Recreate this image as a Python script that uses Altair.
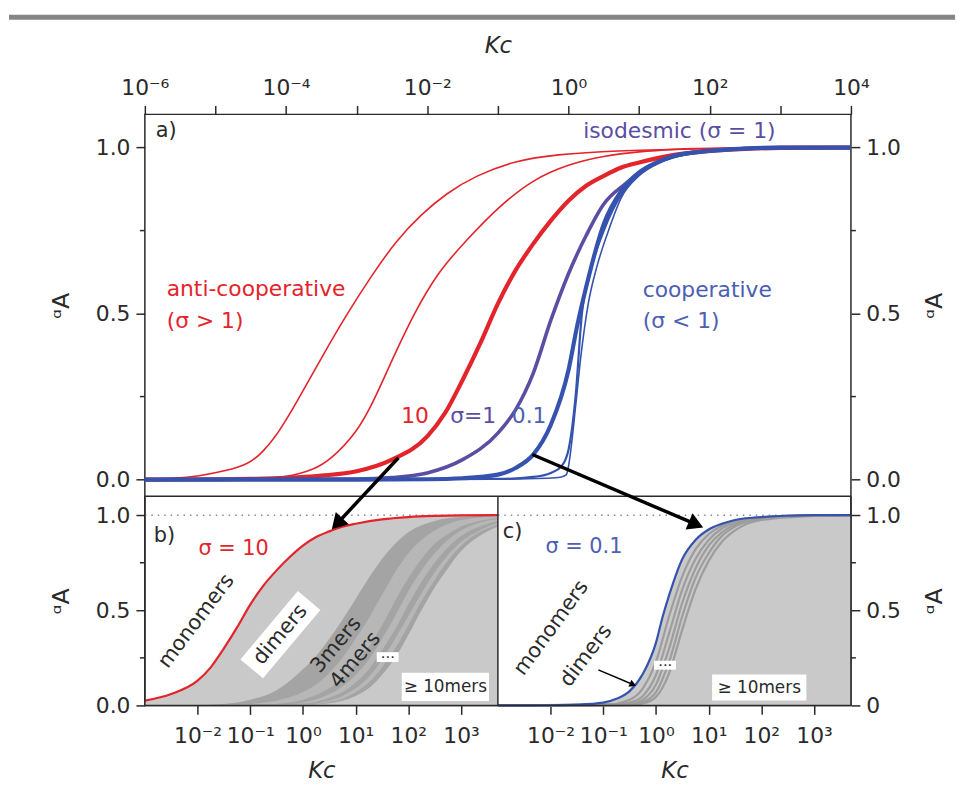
import altair as alt
import pandas as pd

FONT = "DejaVu Sans"
INK = "#2a2a2a"
RED = "#e3242b"
PURPLE = "#5a4ea2"
BLUE = "#3553ae"
BLUE_TXT = "#4b60b2"

# ---------------- values: log10(Kc) and alpha_A ----------------
# panel a
anti1_lk = [-6, -5.6, -5.242, -4.82, -4.539, -4.357, -4.118, -3.837, -3.486, -3.163, -2.784, -2.433, -2.081, -1.73, -1.309, -0.747, -0.185, 0.657, 1.781, 3, 4]
anti1_a = [0, 0.003, 0.0099, 0.0278, 0.0467, 0.0763, 0.1361, 0.2372, 0.3717, 0.4904, 0.616, 0.7218, 0.7996, 0.8624, 0.9162, 0.961, 0.979, 0.991, 0.9955, 1.0, 1.0]
anti2_lk = [-6, -4.5, -4, -3.6, -3.37, -3, -2.75, -2.5, -2.19, -1.85, -1.45, -1, -0.5, 0, 0.5, 1, 1.5, 2, 4]
anti2_a = [0, 0.001, 0.006, 0.03, 0.06, 0.14, 0.24, 0.36, 0.5, 0.625, 0.72, 0.82, 0.905, 0.95, 0.975, 0.988, 0.995, 0.999, 1.0]
sig10_lk = [-6, -5, -4.5, -4, -3.5, -3, -2.5, -2, -1.75, -1.5, -1.25, -1, -0.75, -0.5, -0.25, 0, 0.25, 0.5, 0.75, 1, 1.5, 2, 2.5, 3, 3.7, 4]
sig10_a = [0, 0.0005, 0.002, 0.005, 0.012, 0.025, 0.06, 0.13, 0.2, 0.3, 0.41, 0.53, 0.63, 0.71, 0.78, 0.84, 0.885, 0.915, 0.94, 0.955, 0.978, 0.99, 0.996, 0.999, 1.0, 1.0]
iso_lk = [-6, -3, -2.5, -2, -1.5, -1, -0.75, -0.5, -0.25, 0, 0.25, 0.5, 0.8, 1.2, 1.6, 2, 2.5, 3, 4]
iso_a = [0, 0.002, 0.006, 0.02, 0.06, 0.14, 0.21, 0.32, 0.48, 0.62, 0.735, 0.83, 0.89, 0.95, 0.98, 0.99, 0.997, 1.0, 1.0]
sig01_lk = [-6, -3, -2, -1.5, -1, -0.75, -0.5, -0.25, 0, 0.12, 0.25, 0.5, 0.75, 1, 1.25, 1.5, 2, 2.5, 3, 3.7, 4]
sig01_a = [0, 0, 0.001, 0.004, 0.015, 0.035, 0.075, 0.165, 0.33, 0.46, 0.58, 0.77, 0.87, 0.925, 0.955, 0.975, 0.99, 0.997, 1.0, 1.0, 1.0]
coopB_lk = [-6, -1, -0.5, -0.25, -0.1, 0, 0.1, 0.19, 0.3, 0.5, 0.75, 1, 1.3, 1.7, 2, 3, 4]
coopB_a = [0, 0.002, 0.008, 0.02, 0.04, 0.09, 0.25, 0.5, 0.62, 0.75, 0.86, 0.92, 0.96, 0.98, 0.99, 1.0, 1.0]
coopC_lk = [-6, -1, -0.3, -0.1, -0.03, 0, 0.05, 0.1, 0.18, 0.28, 0.4, 0.55, 0.75, 1, 1.3, 1.7, 2, 3, 4]
coopC_a = [0, 0.001, 0.004, 0.008, 0.015, 0.04, 0.12, 0.22, 0.38, 0.53, 0.64, 0.74, 0.85, 0.915, 0.955, 0.98, 0.99, 1.0, 1.0]

# panel b: fraction in aggregates of size >= n (sigma = 10)
b3_lk = [-3, -2, -1.5, -1, -0.5, 0, 0.25, 0.5, 0.75, 1, 1.25, 1.5, 1.75, 2, 2.5, 3, 3.7]
b3_a = [0, 0.002, 0.008, 0.03, 0.08, 0.19, 0.26, 0.35, 0.45, 0.56, 0.67, 0.77, 0.85, 0.91, 0.97, 0.99, 0.998]
b4_lk = [-3, -1.5, -1, -0.5, 0, 0.25, 0.5, 0.75, 1, 1.25, 1.5, 1.75, 2, 2.25, 2.5, 3, 3.7]
b4_a = [0, 0.002, 0.008, 0.025, 0.07, 0.11, 0.17, 0.25, 0.35, 0.46, 0.58, 0.7, 0.8, 0.87, 0.92, 0.975, 0.995]
b5_lk = [-3, -1, -0.5, 0, 0.5, 0.75, 1, 1.25, 1.5, 1.75, 2, 2.25, 2.5, 2.75, 3, 3.35, 3.7]
b5_a = [0, 0.002, 0.008, 0.03, 0.09, 0.14, 0.22, 0.31, 0.42, 0.55, 0.67, 0.77, 0.85, 0.9, 0.94, 0.97, 0.985]
b6_lk = [-3, -0.5, 0, 0.5, 0.75, 1, 1.25, 1.5, 1.75, 2, 2.25, 2.5, 2.75, 3, 3.35, 3.7]
b6_a = [0, 0.004, 0.015, 0.06, 0.1, 0.16, 0.24, 0.35, 0.47, 0.6, 0.71, 0.8, 0.87, 0.92, 0.96, 0.98]
b7_lk = [-3, 0, 0.5, 0.75, 1, 1.25, 1.5, 1.75, 2, 2.25, 2.5, 2.75, 3, 3.35, 3.7]
b7_a = [0, 0.01, 0.04, 0.07, 0.12, 0.19, 0.29, 0.4, 0.53, 0.65, 0.75, 0.83, 0.89, 0.94, 0.97]
b8_a = [0, 0.006, 0.025, 0.05, 0.09, 0.15, 0.24, 0.35, 0.47, 0.59, 0.7, 0.79, 0.86, 0.92, 0.96]
b9_a = [0, 0.004, 0.018, 0.035, 0.07, 0.12, 0.2, 0.3, 0.42, 0.55, 0.66, 0.76, 0.84, 0.91, 0.95]
b10_a = [0, 0.003, 0.012, 0.025, 0.05, 0.09, 0.16, 0.25, 0.37, 0.5, 0.62, 0.72, 0.81, 0.89, 0.94]
band_colors = ["#c9c9c9", "#a4a4a4", "#b7b7b7", "#a4a4a4", "#b7b7b7", "#a4a4a4", "#b7b7b7", "#a4a4a4", "#c9c9c9"]

# panel c: boundaries of larger aggregates (sigma = 0.1)
c3_lk = [-3, -1, -0.5, -0.25, 0, 0.25, 0.5, 0.75, 1, 1.25, 1.5, 2, 3, 3.7]
c3_a = [0, 0.002, 0.03, 0.09, 0.23, 0.47, 0.68, 0.82, 0.9, 0.945, 0.97, 0.99, 1.0, 1.0]
c4_a = [0, 0.001, 0.015, 0.05, 0.16, 0.38, 0.61, 0.77, 0.87, 0.93, 0.96, 0.985, 0.999, 1.0]
c5_lk = [-3, -0.5, -0.25, 0, 0.25, 0.5, 0.75, 1, 1.25, 1.5, 2, 3, 3.7]
c5_a = [0, 0.008, 0.03, 0.11, 0.3, 0.54, 0.72, 0.84, 0.91, 0.95, 0.983, 0.998, 1.0]
c6_a = [0, 0.004, 0.018, 0.07, 0.23, 0.47, 0.67, 0.8, 0.89, 0.94, 0.98, 0.997, 1.0]
c7_a = [0, 0.002, 0.01, 0.045, 0.17, 0.4, 0.61, 0.76, 0.86, 0.92, 0.975, 0.996, 1.0]

# tick labels
top_labels = ["10⁻⁶", "", "10⁻⁴", "", "10⁻²", "", "10⁰", "", "10²", "", "10⁴"]
bot_labels = ["10⁻²", "10⁻¹", "10⁰", "10¹", "10²", "10³"]
y_major = [0, 0.5, 1.0]
y_minor = [0.25, 0.75]

# ---------------- scales / axes ----------------
W, HA, HB = 712, 385, 211
KMAX = 10 ** 3.7
XA = alt.Scale(type="log", domain=[1e-6, 1e4], range=[0, W], nice=False)
YA = alt.Scale(domain=[-0.05, 1.1], range=[HA, 0], nice=False, zero=False)
XB = alt.Scale(type="log", domain=[1e-3, KMAX], range=[0, W / 2], nice=False)
XC = alt.Scale(type="log", domain=[1e-3, KMAX], range=[W / 2, W], nice=False)
YB = alt.Scale(domain=[0, 1.1], range=[HA + HB, HA], nice=False, zero=False)


def arr(labels):
    return "[" + ",".join("'" + s + "'" for s in labels) + "]"


LAB = dict(labelFont=FONT, labelFontSize=22, labelColor=INK, tickColor=INK, tickWidth=1.5,
           tickSize=9, domain=False, grid=False, labelFlush=False, labelOverlap=False,
           titleFont=FONT, titleColor=INK, titleFontWeight="normal")
yexpr = "format(datum.value,'.1f')"
yexpr_c = "datum.value==0?'0':format(datum.value,'.1f')"

ax_top = alt.Axis(orient="top", values=[10.0 ** k for k in range(-6, 5)],
                  labelExpr=arr(top_labels) + "[round(log(datum.value)/LN10)+6]",
                  labelPadding=6, title="Kc", titleFontSize=23, titleFontStyle="italic",
                  titlePadding=19, **LAB)
ax_bot = alt.Axis(orient="bottom", values=[10.0 ** k for k in range(-2, 4)],
                  labelExpr=arr(bot_labels) + "[round(log(datum.value)/LN10)+2]",
                  labelPadding=11, title="Kc", titleFontSize=23, titleFontStyle="italic",
                  titlePadding=14, **LAB)


def ax_left():
    return alt.Axis(orient="left", values=y_major, labelExpr=yexpr, labelPadding=6,
                    title="ᵅA", titleFontSize=24, titlePadding=22, **LAB)


def ax_right(expr):
    return alt.Axis(orient="right", values=y_major, labelExpr=expr, labelPadding=6,
                    title="ᵅA", titleFontSize=24, titlePadding=22, titleAngle=270,
                    titleBaseline="top", **LAB)


def curve(lk, a, lo=-6.0, hi=4.0):
    rows = [{"Kc": 10.0 ** x, "a": y} for x, y in zip(lk, a) if lo - 1e-9 <= x <= hi + 1e-9]
    return pd.DataFrame(rows)


def line_layer(data, xs, ys, color, width, xaxis=None, yaxis=None, interp="monotone"):
    return alt.Chart(data).mark_line(color=color, strokeWidth=width, interpolate=interp).encode(
        x=alt.X("Kc:Q", scale=xs, axis=xaxis), y=alt.Y("a:Q", scale=ys, axis=yaxis))


def area_layer(data, xs, ys, color, xaxis=None, yaxis=None):
    return alt.Chart(data).mark_area(color=color, interpolate="monotone", opacity=1).encode(
        x=alt.X("Kc:Q", scale=xs, axis=xaxis), y=alt.Y("a:Q", scale=ys, axis=yaxis),
        y2=alt.datum(0))


def text_layer(rows, xs, ys, align):
    d = pd.DataFrame([{"t": r[0], "Kc": 10.0 ** r[1], "a": r[2], "c": r[3], "s": r[4], "r": r[5]}
                      for r in rows])
    return alt.Chart(d).mark_text(font=FONT, align=align, baseline="middle").encode(
        x=alt.X("Kc:Q", scale=xs, axis=None), y=alt.Y("a:Q", scale=ys, axis=None),
        text="t:N", color=alt.Color("c:N", scale=None), size=alt.Size("s:Q", scale=None),
        angle=alt.Angle("r:Q", scale=None))


def rect_layer(rows, xs, ys):
    d = pd.DataFrame([{"x1": 10.0 ** r[0], "x2": 10.0 ** r[1], "y1": r[2], "y2": r[3]} for r in rows])
    return alt.Chart(d).mark_rect(color="white", opacity=1).encode(
        x=alt.X("x1:Q", scale=xs, axis=None), x2="x2:Q",
        y=alt.Y("y1:Q", scale=ys, axis=None), y2="y2:Q")


def hrule(ys_vals, xs, ys, color=INK, width=1.5, dash=None, lo=1e-3, hi=KMAX):
    d = pd.DataFrame({"y": ys_vals, "xa": [lo] * len(ys_vals), "xb": [hi] * len(ys_vals)})
    kw = dict(color=color, strokeWidth=width)
    if dash:
        kw["strokeDash"] = dash
    return alt.Chart(d).mark_rule(**kw).encode(
        x=alt.X("xa:Q", scale=xs, axis=None), x2="xb:Q", y=alt.Y("y:Q", scale=ys, axis=None))


def vrule(xs_vals, xs, ys):
    d = pd.DataFrame({"x": xs_vals, "ya": [0.0] * len(xs_vals), "yb": [1.1] * len(xs_vals)})
    return alt.Chart(d).mark_rule(color=INK, strokeWidth=1.5).encode(
        x=alt.X("x:Q", scale=xs, axis=None), y=alt.Y("ya:Q", scale=ys, axis=None), y2="yb:Q")


def minor_ticks(ys, px0, px1):
    return alt.Chart(pd.DataFrame({"v": y_minor})).mark_rule(color=INK, strokeWidth=1.5).encode(
        x=alt.value(px0), x2=alt.value(px1), y=alt.Y("v:Q", scale=ys, axis=None))


layers = []

# page header rule
layers.append(alt.Chart(pd.DataFrame({"k": [0]})).mark_rule(color="#858585", strokeWidth=5).encode(
    x=alt.value(-137), x2=alt.value(817), y=alt.value(-98)))

# ---------------- panel b ----------------
layers.append(hrule([1.0], XB, YB, color="#8a8a8a", width=1.5, dash=[1.5, 5]))
b_curves = [curve(sig10_lk, sig10_a, -3, 3.7), curve(b3_lk, b3_a), curve(b4_lk, b4_a),
            curve(b5_lk, b5_a), curve(b6_lk, b6_a), curve(b7_lk, b7_a), curve(b7_lk, b8_a),
            curve(b7_lk, b9_a), curve(b7_lk, b10_a)]
for i, (d, col) in enumerate(zip(b_curves, band_colors)):
    if i == 0:
        layers.append(area_layer(d, XB, YB, col, xaxis=ax_bot, yaxis=ax_left()))
    else:
        layers.append(area_layer(d, XB, YB, col))
layers.append(line_layer(b_curves[0], XB, YB, RED, 2.2))

# ---------------- panel c ----------------
layers.append(hrule([1.0], XC, YB, color="#8a8a8a", width=1.5, dash=[1.5, 5]))
c_blue = curve(sig01_lk, sig01_a, -3, 3.7)
layers.append(area_layer(c_blue, XC, YB, "#c9c9c9", xaxis=ax_bot, yaxis=ax_right(yexpr_c)))
for lk, a in [(c3_lk, c3_a), (c3_lk, c4_a), (c5_lk, c5_a), (c5_lk, c6_a), (c5_lk, c7_a)]:
    layers.append(line_layer(curve(lk, a), XC, YB, "#9d9d9d", 2.2))
layers.append(line_layer(c_blue, XC, YB, BLUE, 2.2))

# white label boxes
layers.append(rect_layer([(1.875, 3.531, 0.023, 0.172), (1.40, 1.815, 0.228, 0.28)], XB, YB))
layers.append(rect_layer([(1.065, 2.854, 0.026, 0.162), (-0.036, 0.379, 0.188, 0.235)], XC, YB))
layers.append(alt.Chart(pd.DataFrame({"Kc": [10 ** -0.427], "a": [0.372], "r": [310]})).mark_point(
    shape="M-1,-0.33L1,-0.33L1,0.33L-1,0.33Z", filled=True, color="white", opacity=1,
    size=8100, strokeWidth=0).encode(
    x=alt.X("Kc:Q", scale=XB, axis=None), y=alt.Y("a:Q", scale=YB, axis=None),
    angle=alt.Angle("r:Q", scale=None)))

# panel b / c texts
layers.append(text_layer([("b)", -2.831, 0.889, INK, 21, 0), ("σ = 10", -1.984, 0.821, RED, 21, 0)],
                         XB, YB, "left"))
layers.append(text_layer([("monomers", -2.021, 0.443, INK, 21, 307), ("dimers", -0.427, 0.372, INK, 21, 310),
                          ("3mers", 0.633, 0.318, INK, 21, 310), ("4mers", 0.996, 0.238, INK, 21, 310),
                          ("≥ 10mers", 2.703, 0.0965, INK, 17, 0), ("···", 1.61, 0.254, INK, 15, 0)],
                         XB, YB, "center"))
layers.append(text_layer([("c)", -2.906, 0.912, INK, 21, 0), ("σ = 0.1", -2.097, 0.832, BLUE_TXT, 21, 0)],
                         XC, YB, "left"))
layers.append(text_layer([("monomers", -1.984, 0.407, INK, 21, 306), ("dimers", -1.325, 0.261, INK, 21, 307),
                          ("≥ 10mers", 1.960, 0.094, INK, 17, 0), ("···", 0.176, 0.212, INK, 15, 0)],
                         XC, YB, "center"))

# small pointer to the dimer band in c
layers.append(alt.Chart(pd.DataFrame({"k1": [10 ** -1.094], "a1": [0.187], "k2": [10 ** -0.436], "a2": [0.110]}))
              .mark_rule(color="black", strokeWidth=1.5).encode(
    x=alt.X("k1:Q", scale=XC, axis=None), y=alt.Y("a1:Q", scale=YB, axis=None), x2="k2:Q", y2="a2:Q"))
layers.append(alt.Chart(pd.DataFrame({"Kc": [10 ** -0.436], "a": [0.110], "r": [113]})).mark_point(
    shape="triangle-up", filled=True, color="black", opacity=1, size=60).encode(
    x=alt.X("Kc:Q", scale=XC, axis=None), y=alt.Y("a:Q", scale=YB, axis=None),
    angle=alt.Angle("r:Q", scale=None)))

# frame lines of b and c, minor ticks
layers.append(vrule([1e-3, KMAX], XB, YB))
layers.append(vrule([KMAX], XC, YB))
layers.append(hrule([0.0, 1.1], XB, YB))
layers.append(hrule([0.0, 1.1], XC, YB))
layers.append(minor_ticks(YB, -5, 0))
layers.append(minor_ticks(YB, W, W + 5))
layers.append(minor_ticks(YA, -5, 0))
layers.append(minor_ticks(YA, W, W + 5))

# ---------------- panel a ----------------
layers.append(line_layer(curve(anti1_lk, anti1_a), XA, YA, RED, 1.6, xaxis=ax_top, yaxis=ax_left(),
                         interp="basis"))
layers.append(line_layer(curve(anti2_lk, anti2_a), XA, YA, RED, 1.6, yaxis=ax_right(yexpr),
                         interp="basis"))
layers.append(line_layer(curve(sig10_lk, sig10_a), XA, YA, RED, 4.2))
layers.append(line_layer(curve(iso_lk, iso_a), XA, YA, PURPLE, 3.6))
layers.append(line_layer(curve(coopC_lk, coopC_a), XA, YA, BLUE, 1.6))
layers.append(line_layer(curve(coopB_lk, coopB_a), XA, YA, BLUE, 2.2))
layers.append(line_layer(curve(sig01_lk, sig01_a), XA, YA, BLUE, 4.2))

layers.append(text_layer([("a)", -5.846, 1.049, INK, 21, 0),
                          ("anti-cooperative", -5.691, 0.574, RED, 22, 0),
                          ("(σ > 1)", -5.691, 0.476, RED, 22, 0),
                          ("cooperative", 1.051, 0.571, BLUE_TXT, 22, 0),
                          ("(σ < 1)", 1.051, 0.476, BLUE_TXT, 22, 0)], XA, YA, "left"))
layers.append(text_layer([("10", -2.173, 0.192, RED, 22, 0),
                          ("σ=1", -1.351, 0.192, PURPLE, 22, 0),
                          ("0.1", -0.558, 0.192, BLUE_TXT, 22, 0),
                          ("isodesmic (σ = 1)", 1.570, 1.049, PURPLE, 22, 0)], XA, YA, "center"))

# arrows from panel a to panels b and c
arrow_start_lk = [-2.409, -0.513]
arrow_start_a = [0.0657, 0.0755]
arrow_end_lk = [-3.278, 1.8076]
arrow_end_a = [-0.133, -0.135]
arrow_angle = [222.9, 113.1]
arr_df = pd.DataFrame({"k1": [10 ** v for v in arrow_start_lk], "a1": arrow_start_a,
                       "k2": [10 ** v for v in arrow_end_lk], "a2": arrow_end_a, "r": arrow_angle})
layers.append(alt.Chart(arr_df).mark_rule(color="black", strokeWidth=3.5).encode(
    x=alt.X("k1:Q", scale=XA, axis=None), y=alt.Y("a1:Q", scale=YA, axis=None), x2="k2:Q", y2="a2:Q"))
layers.append(alt.Chart(arr_df).mark_point(shape="triangle-up", filled=True, color="black",
                                           opacity=1, size=320).encode(
    x=alt.X("k2:Q", scale=XA, axis=None), y=alt.Y("a2:Q", scale=YA, axis=None),
    angle=alt.Angle("r:Q", scale=None)))

chart = (alt.layer(*layers)
         .resolve_scale(x="independent", y="independent")
         .resolve_axis(x="independent", y="independent")
         .properties(width=W, height=HA + HB, autosize=alt.AutoSizeParams(type="none"),
                     padding={"left": 138, "top": 104, "right": 113, "bottom": 80},
                     background="white")
         .configure_view(stroke=INK, strokeWidth=1.5))

chart.save("out.html", embed_options={"renderer": "svg", "actions": False})
